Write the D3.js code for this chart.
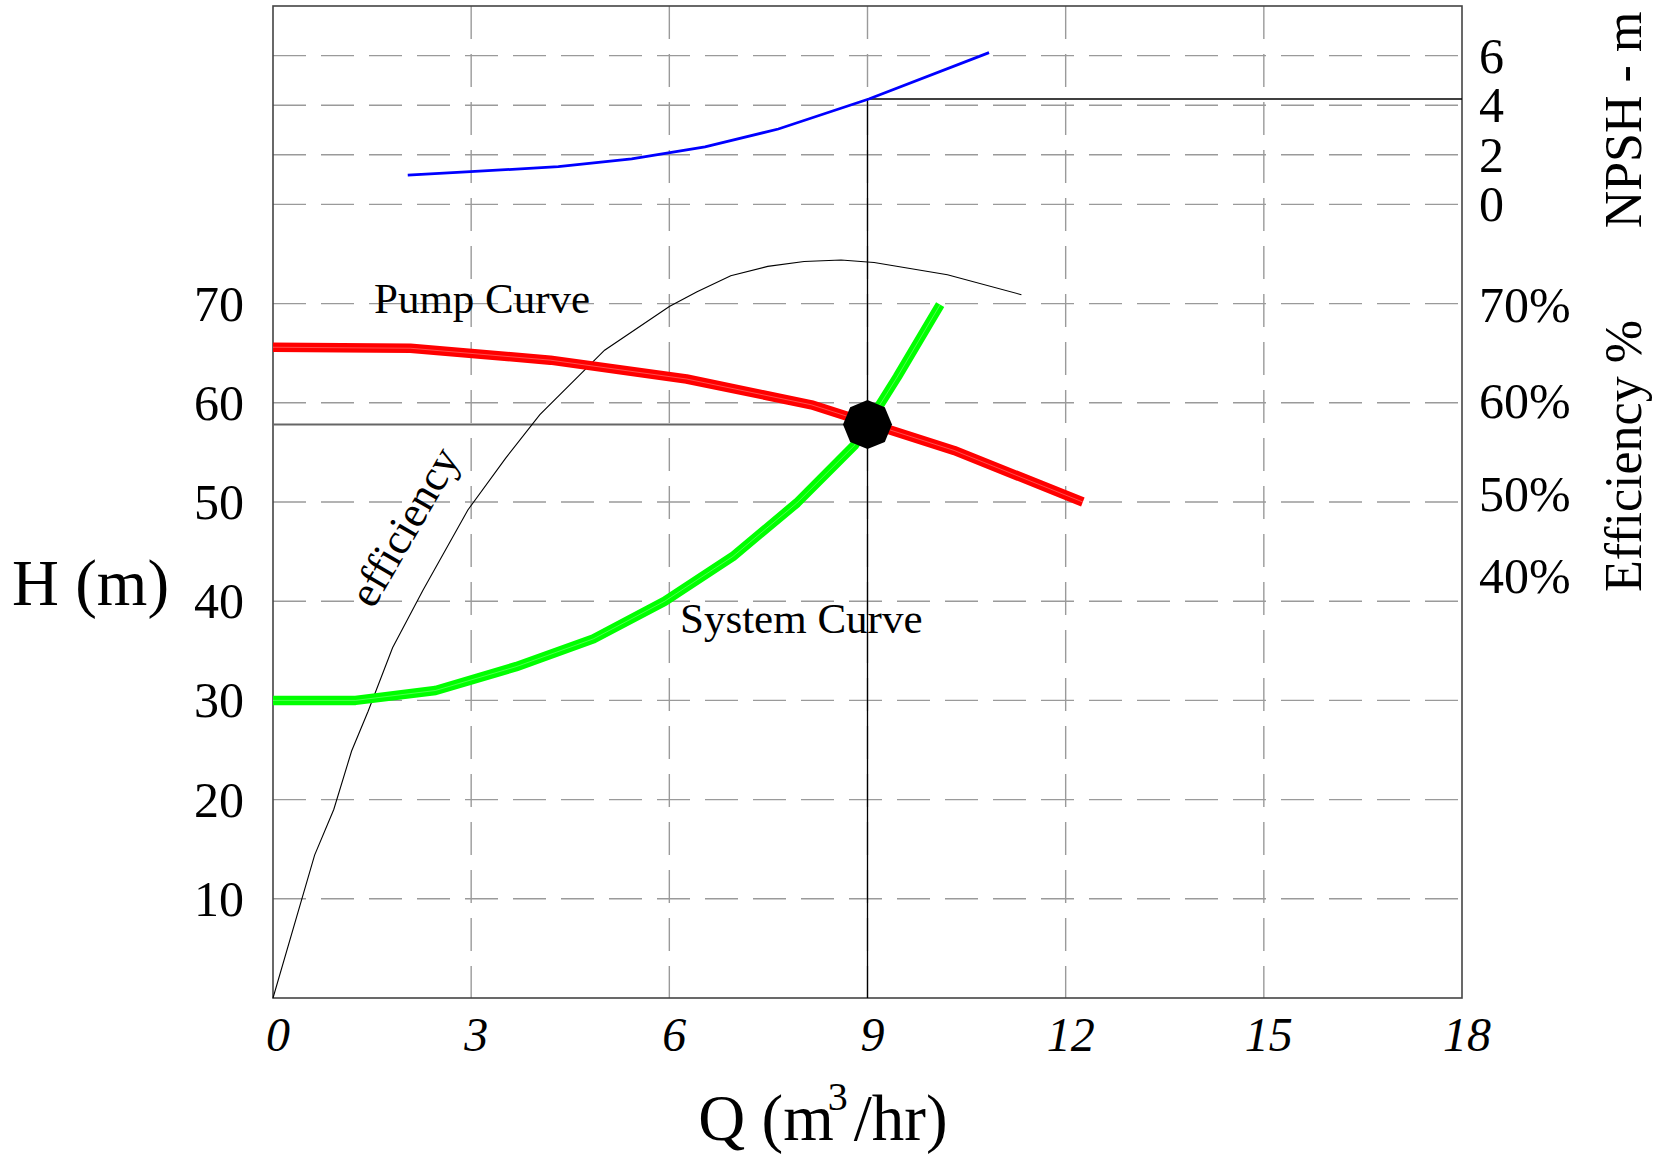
<!DOCTYPE html>
<html lang="en">
<head>
<meta charset="utf-8">
<title>Pump curve</title>
<script src="https://cdn.jsdelivr.net/npm/d3@7"></script>
<style>
  body { margin: 0; background: #fff; }
  text { font-family: "Liberation Serif", "Times New Roman", serif; fill: #000; }
</style>
</head>
<body>
<script>
// flow Q (m3/hr) and values
var pumpQ = [0, 2.08, 4.2, 6.26, 8.15, 10.31, 12.26];
var pumpH = [65.6, 65.5, 64.3, 62.4, 59.8, 55.2, 50.0];

var sysQ = [0, 1.25, 2.46, 3.68, 4.85, 5.93, 6.96, 7.93, 8.8, 9.45, 10.1];
var sysH = [30.0, 30.0, 31.0, 33.4, 36.2, 40.0, 44.5, 49.9, 55.7, 62.6, 69.9];

var effQ = [0, 0.63, 0.92, 1.19, 1.44, 1.81, 2.27, 2.95, 3.52, 4.04, 5.02, 6.0, 6.42, 6.93, 7.49, 8.04, 8.6, 9.1, 10.21, 11.33];
var effE = [0, 14.4, 19, 24.9, 28.9, 35.3, 41.1, 49.2, 54.4, 58.8, 65.3, 69.7, 71.2, 72.8, 73.75, 74.25, 74.4, 74.15, 72.9, 70.9];

var npshQ = [2.04, 2.99, 4.32, 5.43, 6.54, 7.65, 9.02, 10.84];
var npshV = [1.18, 1.32, 1.52, 1.84, 2.32, 3.04, 4.25, 6.12];

var opQ = 9, opH = 57.8, opNPSH = 4.25;

var qTicks = [0, 3, 6, 9, 12, 15, 18];
var hTicks = [10, 20, 30, 40, 50, 60, 70];
var npshTicks = [0, 2, 4, 6];
var effTicks = [40, 50, 60, 70];

var W = 1665, H = 1156;
var pL = 273, pR = 1462, pT = 6, pB = 998;

var svg = d3.select('body').append('svg').attr('width', W).attr('height', H);
svg.append('rect').attr('width', W).attr('height', H).attr('fill', '#fff');

var x = d3.scaleLinear().domain([0, 18]).range([pL, pR]);
var y = d3.scaleLinear().domain([0, 100]).range([pB, pT]);
var yN = d3.scaleLinear().domain([0, 8]).range([y(80), y(100)]);
// efficiency labels sit a little off the head grid in the original
var yEffLabel = d3.scaleLinear().domain([40, 50, 60, 70]).range([576, 494, 401, 305]);

// grid
var grid = svg.append('g').attr('stroke', '#9a9a9a').attr('stroke-width', 1.4)
    .attr('stroke-dasharray', '33,15');
grid.selectAll('.vg').data(qTicks.slice(1, -1)).enter().append('line')
    .attr('x1', function (d) { return x(d); }).attr('x2', function (d) { return x(d); })
    .attr('y1', pT).attr('y2', pB);
grid.selectAll('.hg').data(hTicks).enter().append('line')
    .attr('x1', pL).attr('x2', pR)
    .attr('y1', function (d) { return y(d); }).attr('y2', function (d) { return y(d); });
grid.selectAll('.ng').data(npshTicks).enter().append('line')
    .attr('x1', pL).attr('x2', pR)
    .attr('y1', function (d) { return yN(d); }).attr('y2', function (d) { return yN(d); });

// frame
svg.append('rect').attr('x', pL).attr('y', pT)
    .attr('width', pR - pL).attr('height', pB - pT)
    .attr('fill', 'none').attr('stroke', '#444').attr('stroke-width', 1.6);

// reference lines through the operating point
svg.append('line').attr('x1', x(opQ)).attr('x2', x(opQ))
    .attr('y1', yN(opNPSH)).attr('y2', pB)
    .attr('stroke', '#000').attr('stroke-width', 1.3);
svg.append('line').attr('x1', x(opQ)).attr('x2', pR)
    .attr('y1', yN(opNPSH)).attr('y2', yN(opNPSH))
    .attr('stroke', '#000').attr('stroke-width', 1.3);
svg.append('line').attr('x1', pL).attr('x2', x(opQ))
    .attr('y1', y(opH)).attr('y2', y(opH))
    .attr('stroke', '#666').attr('stroke-width', 2);

function pts(qs, vs) {
    return qs.map(function (q, i) { return [q, vs[i]]; });
}
var lineH = d3.line().x(function (d) { return x(d[0]); }).y(function (d) { return y(d[1]); });
var lineN = d3.line().x(function (d) { return x(d[0]); }).y(function (d) { return yN(d[1]); });

svg.append('path').attr('d', lineH(pts(effQ, effE)))
    .attr('fill', 'none').attr('stroke', '#000').attr('stroke-width', 1.1);

svg.append('path').attr('d', lineN(pts(npshQ, npshV)))
    .attr('fill', 'none').attr('stroke', '#0000ff').attr('stroke-width', 2.8);

[[pumpQ, pumpH, '#ff0000'], [sysQ, sysH, '#00ff00']].forEach(function (s) {
    var d = lineH(pts(s[0], s[1]));
    svg.append('path').attr('d', d).attr('fill', 'none').attr('stroke', s[2])
        .attr('stroke-width', 9.5).attr('stroke-linejoin', 'round');
    svg.append('path').attr('d', d).attr('fill', 'none')
        .attr('stroke', 'rgba(255,255,255,0.3)').attr('stroke-width', 1);
});

// operating point marker (octagon)
var r = 24.5;
var oct = d3.range(8).map(function (i) {
    var a = -Math.PI / 2 + i * Math.PI / 4;
    return [x(opQ) + r * Math.cos(a), y(opH) + r * Math.sin(a)];
});
svg.append('polygon').attr('points', oct.join(' ')).attr('fill', '#000');

// tick labels
svg.selectAll('.qt').data(qTicks).enter().append('text')
    .attr('x', function (d) { return x(d) + 5; }).attr('y', 1051)
    .attr('text-anchor', 'middle').attr('font-size', 48).attr('font-style', 'italic')
    .text(function (d) { return d; });

svg.selectAll('.ht').data(hTicks).enter().append('text')
    .attr('x', 244).attr('y', function (d) { return y(d); }).attr('dy', '0.34em')
    .attr('text-anchor', 'end').attr('font-size', 50)
    .text(function (d) { return d; });

svg.selectAll('.nt').data(npshTicks).enter().append('text')
    .attr('x', 1479).attr('y', function (d) { return yN(d); }).attr('dy', '0.34em')
    .attr('font-size', 50)
    .text(function (d) { return d; });

svg.selectAll('.et').data(effTicks).enter().append('text')
    .attr('x', 1479).attr('y', function (d) { return yEffLabel(d); }).attr('dy', '0.34em')
    .attr('font-size', 50)
    .text(function (d) { return d + '%'; });

// axis titles
svg.append('text').attr('x', 12).attr('y', 605).attr('font-size', 65).text('H (m)');

var qt = svg.append('text').attr('x', 823).attr('y', 1140)
    .attr('text-anchor', 'middle').attr('font-size', 65);
qt.append('tspan').text('Q (m');
qt.append('tspan').attr('font-size', 40).attr('dx', -6).attr('dy', -30).text('3');
qt.append('tspan').attr('dx', 6).attr('dy', 30).text('/hr)');

svg.append('text').attr('transform', 'translate(1641,120) rotate(-90)')
    .attr('text-anchor', 'middle').attr('font-size', 52).text('NPSH - m');
svg.append('text').attr('transform', 'translate(1641,456) rotate(-90)')
    .attr('text-anchor', 'middle').attr('font-size', 52).text('Efficiency %');

// curve labels
svg.append('text').attr('x', 374).attr('y', 313).attr('font-size', 43).text('Pump Curve');
svg.append('text').attr('x', 680).attr('y', 633).attr('font-size', 43).text('System Curve');
svg.append('text').attr('transform', 'translate(417,534) rotate(-60)')
    .attr('text-anchor', 'middle').attr('font-size', 44).text('efficiency');
</script>
</body>
</html>
